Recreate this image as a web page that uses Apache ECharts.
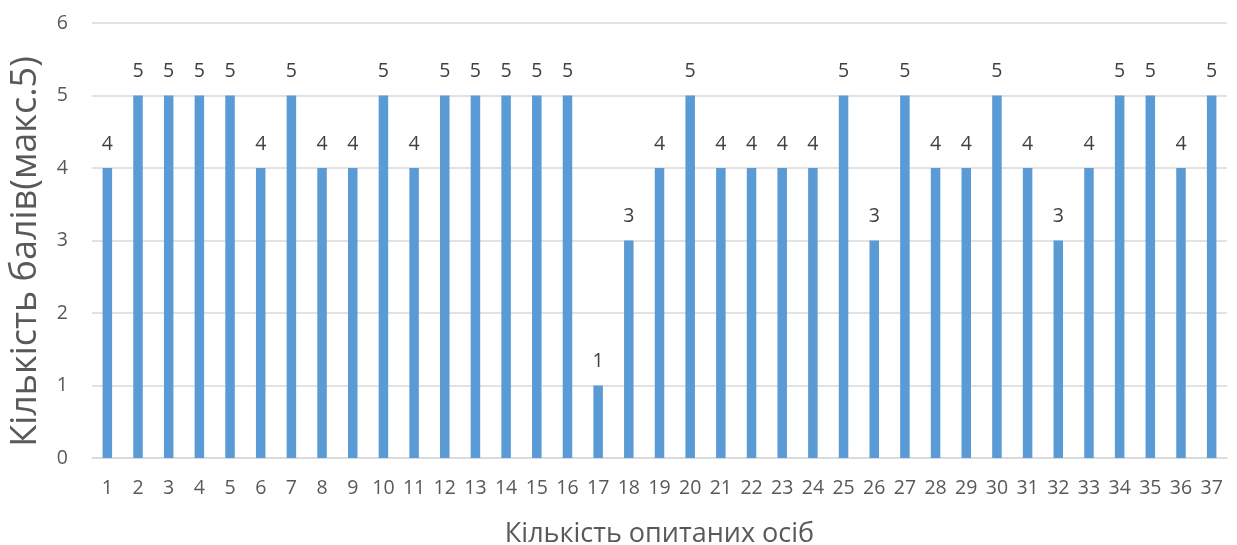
<!DOCTYPE html>
<html><head><meta charset="utf-8">
<script src="https://cdn.jsdelivr.net/npm/echarts@6/dist/echarts.min.js"></script>
<style>html,body{margin:0;padding:0;background:#fff}#c{width:1237px;height:545px}</style>
</head><body><div id="c"></div>
<script>
const categories = ['1','2','3','4','5','6','7','8','9','10','11','12','13','14','15','16','17','18','19','20','21','22','23','24','25','26','27','28','29','30','31','32','33','34','35','36','37'];
const scores = [4,5,5,5,5,4,5,4,4,5,4,5,5,5,5,5,1,3,4,5,4,4,4,4,5,3,5,4,4,5,4,3,4,5,5,4,5];
const yTitle = 'Кількість балів(макс.5)';
const xTitle = 'Кількість опитаних осіб';
const font = '"Open Sans", "Noto Sans", sans-serif';
const chart = echarts.init(document.getElementById('c'));
chart.setOption({
  animation: false,
  grid: {left: 92, right: 10, top: 23, bottom: 87, containLabel: false, outerBoundsMode: 'none'},
  xAxis: {
    type: 'category', data: categories,
    axisLine: {lineStyle: {color: '#d9d9d9', width: 1.5}},
    axisTick: {show: false},
    axisLabel: {color: '#595959', fontSize: 19.5, fontFamily: font, margin: 20},
    name: xTitle, nameLocation: 'middle', nameGap: 63,
    nameTextStyle: {color: '#595959', fontSize: 27, fontFamily: font}
  },
  yAxis: {
    type: 'value', min: 0, max: 6, interval: 1,
    axisLine: {show: false}, axisTick: {show: false},
    splitLine: {lineStyle: {color: '#d9d9d9', width: 1.5}},
    axisLabel: {color: '#595959', fontSize: 19.5, fontFamily: font, margin: 24},
    name: yTitle, nameLocation: 'middle', nameGap: 48,
    nameTextStyle: {color: '#595959', fontSize: 36, fontFamily: font, padding: [0, 22, 0, 0]}
  },
  series: [{
    type: 'bar', data: scores, barWidth: '31%',
    itemStyle: {color: '#5b9bd5'},
    label: {show: true, position: 'top', distance: 14, color: '#404040', fontSize: 19.5, fontFamily: font}
  }]
});
</script></body></html>
